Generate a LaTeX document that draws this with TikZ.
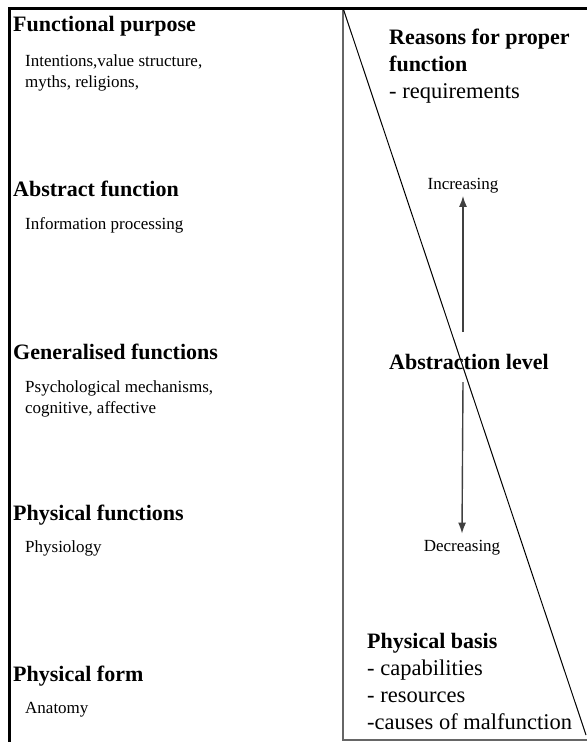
\documentclass[tikz,border=0pt]{standalone}
\usepackage{fontspec}
\setmainfont{Liberation Serif}
\usetikzlibrary{positioning, arrows.meta}

\begin{document}
\begin{tikzpicture}[
			x=1pt, y=-1pt,
			% Node styles
			levelHead/.style={anchor=base west, inner sep=0pt, font=\fontsize{22}{26}\selectfont\bfseries},
			levelText/.style={anchor=base west, inner sep=0pt, align=left, font=\fontsize{17}{20.5}\selectfont},
			sideHead/.style={anchor=base west, inner sep=0pt, align=left, font=\fontsize{22}{27}\selectfont\bfseries},
			sideText/.style={anchor=base west, inner sep=0pt, align=left, font=\fontsize{22.5}{27}\selectfont},
			trendText/.style={anchor=base, inner sep=0pt, font=\fontsize{17}{20}\selectfont},
			% Line styles
			outerLine/.style={line width=3pt, draw=black},
			innerLine/.style={line width=1.6pt, draw=black!60},
			slopeLine/.style={line width=1pt, draw=black},
			levelArrow/.style={-{Latex[length=11pt,width=8pt]}, line width=1.4pt, draw=black!75}
			]
			
			\useasboundingbox (0,0) rectangle (587,742);
			
			% =========================================================
			% 1. FRAME
			% =========================================================
			
			\coordinate (topLeft) at (9,8);
			\coordinate (topMid) at (343,8);
			\coordinate (topRight) at (587,8);
			\coordinate (botLeft) at (9,742);
			\coordinate (botMid) at (343,740);
			\coordinate (botRight) at (587,740);
			\coordinate (slopeEnd) at (586,735);
			
			\draw[innerLine] (topMid) -- (botMid) -- (botRight);
			\draw[outerLine] (botLeft) -- (topLeft) -- (topRight);
			\draw[slopeLine] (topMid) -- (slopeEnd);
			
			% =========================================================
			% 2. THE FIVE LEVELS (Left Column)
			% =========================================================
			
			% (base of a two-line node = base of its last line)
			\node[levelHead] (purposeHead) at (13,31) {Functional purpose};
			\node[levelText] (purposeText) at (25,87) {Intentions,value structure,\\myths, religions,};
			
			\node[levelHead] (abstractHead) at (13,196) {Abstract function};
			\node[levelText] (abstractText) at (25,229) {Information processing};
			
			\node[levelHead] (generalHead) at (13,359) {Generalised functions};
			\node[levelText] (generalText) at (25,413) {Psychological mechanisms,\\cognitive, affective};
			
			\node[levelHead] (physFuncHead) at (13,520) {Physical functions};
			\node[levelText] (physFuncText) at (25,552) {Physiology};
			
			\node[levelHead] (formHead) at (13,681) {Physical form};
			\node[levelText] (formText) at (25,713) {Anatomy};
			
			% =========================================================
			% 3. ABSTRACTION SCALE (Right Column)
			% =========================================================
			
			\node[sideHead] (reasonHead) at (389,71) {Reasons for proper\\function};
			\node[sideText] (reasonText) at (389,98) {- requirements};
			
			\node[trendText] (incr) at (463,189) {Increasing};
			\node[sideHead] (absLevel) at (389,369) {Abstraction level};
			\node[trendText] (decr) at (462,551) {Decreasing};
			
			\coordinate (upFrom) at (463,332);
			\coordinate (downFrom) at (463,382);
			\draw[levelArrow] (upFrom) -- ([yshift=-3pt]incr.south);
			\draw[levelArrow] (downFrom) -- ([yshift=6pt]decr.north);
			
			\node[sideHead] (basisHead) at (367,648) {Physical basis};
			\node[sideText] (basisText) at (367,729) {- capabilities\\- resources\\-causes of malfunction};
			
		\end{tikzpicture}
\end{document}
